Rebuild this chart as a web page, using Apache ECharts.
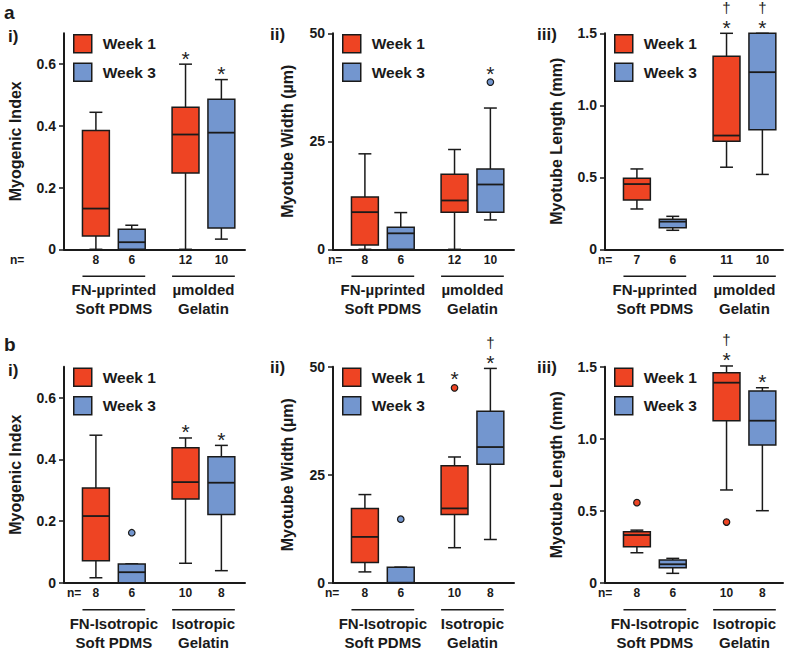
<!DOCTYPE html>
<html><head><meta charset="utf-8">
<script src="https://cdn.jsdelivr.net/npm/echarts@6/dist/echarts.min.js"></script>
<style>html,body{margin:0;padding:0;background:#fff}#c{width:787px;height:650px}</style>
</head><body><div id="c"></div>
<script>
// ---------------- data ----------------
const weekNames = ['Week 1', 'Week 3'];
const groupLabelsA = [['FN-µprinted', 'Soft PDMS'], ['µmolded', 'Gelatin']];
const groupLabelsB = [['FN-Isotropic', 'Soft PDMS'], ['Isotropic', 'Gelatin']];
const metricTitles = ['Myogenic Index', 'Myotube Width (µm)', 'Myotube Length (mm)'];
const yTicksIndex = [0, 0.2, 0.4, 0.6];
const yTicksWidth = [0, 25, 50];
const yTicksLength = [0, 0.5, 1.0, 1.5];

// box stats [min, Q1, median, Q3, max] for group 1, group 2
// a-i Myogenic index
const aiWeek1 = [[0, 0.043, 0.132, 0.385, 0.444], [0, 0.247, 0.372, 0.46, 0.6]];
const aiWeek3 = [[0, 0, 0.023, 0.065, 0.078], [0.033, 0.069, 0.378, 0.486, 0.55]];
const aiN1 = [8, 12], aiN3 = [6, 10];
const aiMark1 = ['', '*'], aiMark3 = ['', '*'];
const aiOut1 = [], aiOut3 = [];
// a-ii Myotube width
const aiiWeek1 = [[0, 1.0, 8.6, 12.1, 22.1], [0, 8.6, 11.3, 17.4, 23.1]];
const aiiWeek3 = [[0, 0, 3.7, 5.1, 8.5], [6.8, 8.6, 15.0, 18.6, 32.7]];
const aiiN1 = [8, 12], aiiN3 = [6, 10];
const aiiMark1 = ['', ''], aiiMark3 = ['', '*'];
const aiiOut1 = [], aiiOut3 = [[1, 38.7]];
// a-iii Myotube length
const aiiiWeek1 = [[0.28, 0.342, 0.453, 0.493, 0.558], [0.57, 0.75, 0.79, 1.34, 1.5]];
const aiiiWeek3 = [[0.132, 0.15, 0.192, 0.208, 0.229], [0.52, 0.83, 1.23, 1.5, 1.5]];
const aiiiN1 = [7, 11], aiiiN3 = [6, 10];
const aiiiMark1 = ['', '†*'], aiiiMark3 = ['', '†*'];
const aiiiOut1 = [], aiiiOut3 = [];
// b-i Myogenic index
const biWeek1 = [[0.016, 0.071, 0.216, 0.307, 0.478], [0.063, 0.271, 0.326, 0.437, 0.469]];
const biWeek3 = [[0, 0, 0.034, 0.061, 0.061], [0.039, 0.221, 0.324, 0.408, 0.445]];
const biN1 = [8, 10], biN3 = [6, 8];
const biMark1 = ['', '*'], biMark3 = ['', '*'];
const biOut1 = [], biOut3 = [[0, 0.162]];
// b-ii Myotube width
const biiWeek1 = [[2.5, 4.7, 10.6, 17.2, 20.4], [8.1, 15.8, 17.2, 27.1, 29.1]];
const biiWeek3 = [[0, 0, 0, 3.6, 3.6], [10.0, 27.4, 31.4, 39.7, 49.6]];
const biiN1 = [8, 10], biiN3 = [6, 8];
const biiMark1 = ['', '*'], biiMark3 = ['', '†*'];
const biiOut1 = [[1, 45.1]], biiOut3 = [[0, 14.7]];
// b-iii Myotube length
const biiiWeek1 = [[0.208, 0.25, 0.331, 0.354, 0.365], [0.644, 1.125, 1.389, 1.458, 1.505]];
const biiiWeek3 = [[0.065, 0.104, 0.128, 0.158, 0.169], [0.5, 0.956, 1.125, 1.331, 1.354]];
const biiiN1 = [8, 10], biiiN3 = [6, 8];
const biiiMark1 = ['', '†*'], biiiMark3 = ['', '*'];
const biiiOut1 = [[0, 0.556], [1, 0.421]], biiiOut3 = [];

// ---------------- style / layout ----------------
const FONT = '"Liberation Sans", Arial, Helvetica, sans-serif';
const INK = '#1a1a1a';
const COLORS = ['#EE4423', '#7396CF'];
const ROW_TOP = [33.3, 366.7];
const PLOT_H = 216;
const COL_LEFT = [64, 333, 605];
const COL_W = [181, 181, 178];
const UNIT = 35.85, X_MIN = -0.89;
const SLOT = [[0, 2.5], [1, 3.5]]; // x slot of [week][group]
const BOX_W = 0.75, CAP_W = 0.36;

const panels = [
  {row: 0, col: 0, w: [aiWeek1, aiWeek3], n: [aiN1, aiN3], m: [aiMark1, aiMark3], o: [aiOut1, aiOut3], ticks: yTicksIndex, max: 0.7, dec: 1, groups: groupLabelsA, roman: 'i)'},
  {row: 0, col: 1, w: [aiiWeek1, aiiWeek3], n: [aiiN1, aiiN3], m: [aiiMark1, aiiMark3], o: [aiiOut1, aiiOut3], ticks: yTicksWidth, max: 50, dec: 0, groups: groupLabelsA, roman: 'ii)'},
  {row: 0, col: 2, w: [aiiiWeek1, aiiiWeek3], n: [aiiiN1, aiiiN3], m: [aiiiMark1, aiiiMark3], o: [aiiiOut1, aiiiOut3], ticks: yTicksLength, max: 1.5, dec: 1, groups: groupLabelsA, roman: 'iii)'},
  {row: 1, col: 0, w: [biWeek1, biWeek3], n: [biN1, biN3], m: [biMark1, biMark3], o: [biOut1, biOut3], ticks: yTicksIndex, max: 0.7, dec: 1, groups: groupLabelsB, roman: 'i)'},
  {row: 1, col: 1, w: [biiWeek1, biiWeek3], n: [biiN1, biiN3], m: [biiMark1, biiMark3], o: [biiOut1, biiOut3], ticks: yTicksWidth, max: 50, dec: 0, groups: groupLabelsB, roman: 'ii)'},
  {row: 1, col: 2, w: [biiiWeek1, biiiWeek3], n: [biiiN1, biiiN3], m: [biiiMark1, biiiMark3], o: [biiiOut1, biiiOut3], ticks: yTicksLength, max: 1.5, dec: 1, groups: groupLabelsB, roman: 'iii)'}
];

function txt(text, x, y, size, opts) {
  opts = opts || {};
  return {type: 'text', x: x, y: y, rotation: opts.rotation || 0, z: 100,
    style: {text: text, fill: opts.fill || INK, align: opts.align || 'center', verticalAlign: 'middle',
      font: (opts.weight || 'bold') + ' ' + size + 'px ' + FONT}};
}

function boxRender(p, wk) {
  return function (params, api) {
    const g = params.dataIndex;
    const x = api.value(0);
    const v = [1, 2, 3, 4, 5].map(i => api.value(i));
    const c = val => api.coord([x, val]);
    const pLo = c(v[0]), pQ1 = c(v[1]), pMd = c(v[2]), pQ3 = c(v[3]), pHi = c(v[4]);
    const cx = pLo[0];
    const bw = api.size([BOX_W, 0])[0];
    const cw = api.size([CAP_W, 0])[0];
    const y0 = c(0)[1];
    const ls = {stroke: INK, lineWidth: 1.5};
    const ch = [
      {type: 'line', shape: {x1: cx, y1: pHi[1], x2: cx, y2: pQ3[1]}, style: ls},
      {type: 'line', shape: {x1: cx, y1: pQ1[1], x2: cx, y2: pLo[1]}, style: ls},
      {type: 'line', shape: {x1: cx - cw / 2, y1: pHi[1], x2: cx + cw / 2, y2: pHi[1]}, style: ls},
      {type: 'line', shape: {x1: cx - cw / 2, y1: pLo[1], x2: cx + cw / 2, y2: pLo[1]}, style: ls},
      {type: 'rect', shape: {x: cx - bw / 2, y: pQ3[1], width: bw, height: pQ1[1] - pQ3[1]},
        style: {fill: COLORS[wk], stroke: INK, lineWidth: 1.5}},
      {type: 'line', shape: {x1: cx - bw / 2, y1: pMd[1], x2: cx + bw / 2, y2: pMd[1]}, style: {stroke: INK, lineWidth: 1.8}},
      txt(String(p.n[wk][g]), cx, y0 + 10.5, 12)
    ];
    const mark = p.m[wk][g];
    if (mark) {
      let top = pHi[1];
      let extra = 0;
      p.o[wk].forEach(o => { if (o[0] === g) { const yy = c(o[1])[1]; if (yy < top) { top = yy; extra = 3; } } });
      const starY = top - 11 - extra;
      ch.push(txt('*', cx, starY + 5, 21, {weight: 'normal', fill: '#222'}));
      if (mark.indexOf('†') >= 0) ch.push(txt('†', cx, starY - 15, 15, {weight: 'normal', fill: '#222'}));
    }
    return {type: 'group', children: ch};
  };
}

function groupRender(p) {
  return function (params, api) {
    const g = params.dataIndex;
    const c1 = api.coord([SLOT[0][g], 0]), c2 = api.coord([SLOT[1][g], 0]);
    const bw = api.size([BOX_W, 0])[0];
    const y0 = c1[1], cx = (c1[0] + c2[0]) / 2;
    return {type: 'group', children: [
      {type: 'line', shape: {x1: c1[0] - bw / 2, y1: y0 + 27, x2: c2[0] + bw / 2, y2: y0 + 27}, style: {stroke: INK, lineWidth: 1.5}},
      txt(p.groups[g][0], cx, y0 + 40.5, 15),
      txt(p.groups[g][1], cx, y0 + 59.5, 15)
    ]};
  };
}

const grid = [], xAxis = [], yAxis = [], series = [], legend = [], graphic = [];
panels.forEach((p, i) => {
  const top = ROW_TOP[p.row], left = COL_LEFT[p.col], width = COL_W[p.col];
  grid.push({left: left, top: top, width: width, height: PLOT_H});
  xAxis.push({type: 'value', gridIndex: i, min: X_MIN, max: X_MIN + width / UNIT,
    axisLine: {onZero: false, lineStyle: {color: INK, width: 2}}, axisTick: {show: false},
    axisLabel: {show: false}, splitLine: {show: false}});
  yAxis.push({type: 'value', gridIndex: i, min: 0, max: p.max,
    axisLine: {show: true, onZero: false, lineStyle: {color: INK, width: 2}},
    axisTick: {show: true, length: 5, customValues: p.ticks, lineStyle: {color: INK, width: 1.5}},
    axisLabel: {customValues: p.ticks, margin: 8, color: INK, fontFamily: FONT, fontWeight: 'bold', fontSize: 14,
      formatter: v => (v === 0 ? '0' : Number(v).toFixed(p.dec))},
    splitLine: {show: false}});
  [0, 1].forEach(wk => {
    series.push({type: 'custom', name: weekNames[wk], xAxisIndex: i, yAxisIndex: i,
      itemStyle: {color: COLORS[wk]}, clip: false,
      encode: {x: 0, y: [1, 2, 3, 4, 5]},
      data: p.w[wk].map((s, g) => [SLOT[wk][g]].concat(s)),
      renderItem: boxRender(p, wk)});
    if (p.o[wk].length) {
      series.push({type: 'scatter', name: weekNames[wk] + ' outliers', xAxisIndex: i, yAxisIndex: i,
        symbol: 'circle', symbolSize: 6.5, z: 5,
        itemStyle: {color: COLORS[wk], borderColor: INK, borderWidth: 1.2, opacity: 1},
        data: p.o[wk].map(o => [SLOT[wk][o[0]], o[1]])});
    }
  });
  series.push({type: 'custom', name: 'groups' + i, xAxisIndex: i, yAxisIndex: i, clip: false,
    data: p.groups.map((_, g) => [(SLOT[0][g] + SLOT[1][g]) / 2, 0]),
    encode: {x: 0, y: 1}, renderItem: groupRender(p)});
  legend.push({data: weekNames, orient: 'vertical', left: left + 9, top: top + 0.7, padding: 0,
    itemWidth: 18, itemHeight: 18, itemGap: 9, icon: 'rect', selectedMode: false,
    itemStyle: {borderColor: INK, borderWidth: 1.5},
    textStyle: {fontFamily: FONT, fontWeight: 'bold', fontSize: 15.5, color: INK, padding: [0, 0, 0, 6]}});
  // axis title
  const titleX = [15, 287, 556][p.col];
  graphic.push(txt(metricTitles[p.col], titleX, top + 108, 16, {rotation: Math.PI / 2}));
  // roman numeral
  const romanX = [8, 270, 537][p.col];
  graphic.push(txt(p.roman, romanX, top + (p.col === 0 ? 3.5 : 0.7), 17, {align: 'left'}));
  // n=
  const nX = p.row === 0 ? [10, 328, 598][p.col] : [67, 325, 598][p.col];
  graphic.push(txt('n=', nX, top + PLOT_H + 10.5, 12, {align: 'left'}));
});
graphic.push(txt('a', 4, 12, 19, {align: 'left'}));
graphic.push(txt('b', 4, 344, 19, {align: 'left'}));

const chart = echarts.init(document.getElementById('c'), null, {renderer: 'svg'});
chart.setOption({
  animation: false,
  backgroundColor: '#fff',
  grid: grid, xAxis: xAxis, yAxis: yAxis, series: series, legend: legend,
  graphic: {elements: graphic}
});
</script>
</body></html>
